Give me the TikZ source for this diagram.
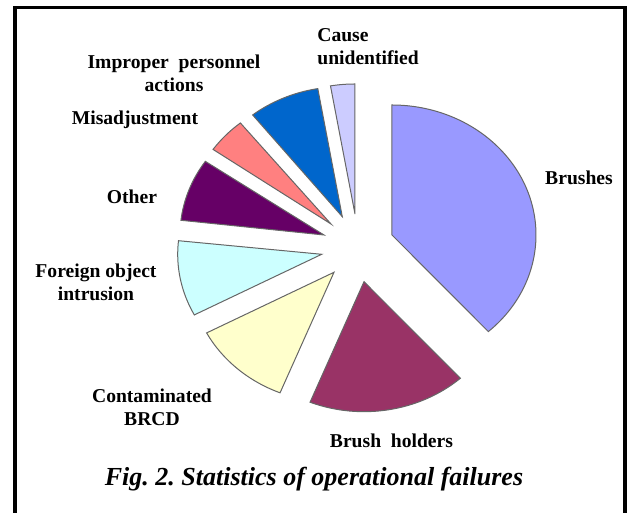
\documentclass[tikz,border=0pt]{standalone}
\usepackage{fontspec}
\setmainfont{Liberation Serif}
\usepackage{tikz}
\frenchspacing
\definecolor{brushcolor}{HTML}{9999FF}
\definecolor{holdercolor}{HTML}{993366}
\definecolor{brcdcolor}{HTML}{FFFFCC}
\definecolor{foreigncolor}{HTML}{CCFFFF}
\definecolor{othercolor}{HTML}{660066}
\definecolor{misadjcolor}{HTML}{FF8080}
\definecolor{personnelcolor}{HTML}{0066CC}
\definecolor{unknowncolor}{HTML}{CCCCFF}

\begin{document}
\begin{tikzpicture}[
    x=0.5pt, y=0.5pt,
    slice/.style={draw=black!60, line width=0.5pt, fill=#1},
    catlabel/.style={font=\fontsize{9.8}{11.5}\selectfont\bfseries, align=center, inner sep=0pt},
    figcaption/.style={font=\fontsize{13}{15}\selectfont\bfseries\itshape, inner sep=0pt}
]

\useasboundingbox (0,0) rectangle (629,513);

% Frame
\draw[line width=1.75pt] (15,0) -- (15,505.5) -- (625,505.5) -- (625,0);

% Slice tips
\coordinate (brushes) at (392,278);
\coordinate (holders) at (364,231.3);
\coordinate (brcd) at (334,240.7);
\coordinate (foreign) at (321.7,258.7);
\coordinate (other) at (324,278);
\coordinate (misadj) at (331,289);
\coordinate (personnel) at (342.3,296.3);
\coordinate (unknown) at (355,299);

% Slices
\draw[slice=brushcolor] (brushes) -- ++(-48:72pt and 65pt) arc[start angle=-48, end angle=90, x radius=72pt, y radius=65pt] -- cycle;
\draw[slice=holdercolor] (holders) -- ++(248:72pt and 65pt) arc[start angle=248, end angle=312, x radius=72pt, y radius=65pt] -- cycle;
\draw[slice=brcdcolor] (brcd) -- ++(207.8:72pt and 65pt) arc[start angle=207.8, end angle=248, x radius=72pt, y radius=65pt] -- cycle;
\draw[slice=foreigncolor] (foreign) -- ++(174:72pt and 65pt) arc[start angle=174, end angle=207.8, x radius=72pt, y radius=65pt] -- cycle;
\draw[slice=othercolor] (other) -- ++(145.5:72pt and 65pt) arc[start angle=145.5, end angle=173.5, x radius=72pt, y radius=65pt] -- cycle;
\draw[slice=misadjcolor] (misadj) -- ++(129:72pt and 65pt) arc[start angle=129, end angle=145, x radius=72pt, y radius=65pt] -- cycle;
\draw[slice=personnelcolor] (personnel) -- ++(99.8:72pt and 65pt) arc[start angle=99.8, end angle=128.5, x radius=72pt, y radius=65pt] -- cycle;
\draw[slice=unknowncolor] (unknown) -- ++(90:72pt and 65pt) arc[start angle=90, end angle=99.8, x radius=72pt, y radius=65pt] -- cycle;

% Labels
\node[catlabel] (brusheslbl) at (579,335) {Brushes};
\node[catlabel] (holderslbl) at (391.5,72) {Brush\ \ holders};
\node[catlabel] (brcdlbl) at (152,106) {Contaminated\\BRCD};
\node[catlabel] (foreignlbl) at (96,230.5) {Foreign object\\intrusion};
\node[catlabel] (otherlbl) at (132,316) {Other};
\node[catlabel] (misadjlbl) at (135,393) {Misadjustment};
\node[catlabel] (personnellbl) at (174,440) {Improper\ \ personnel\\actions};
\node[catlabel, align=left, anchor=west] (unknownlbl) at (317,466.5) {Cause\\unidentified};

% Caption
\node[figcaption] (caption) at (314,34) {Fig. 2. Statistics of operational failures};

\end{tikzpicture}
\end{document}
